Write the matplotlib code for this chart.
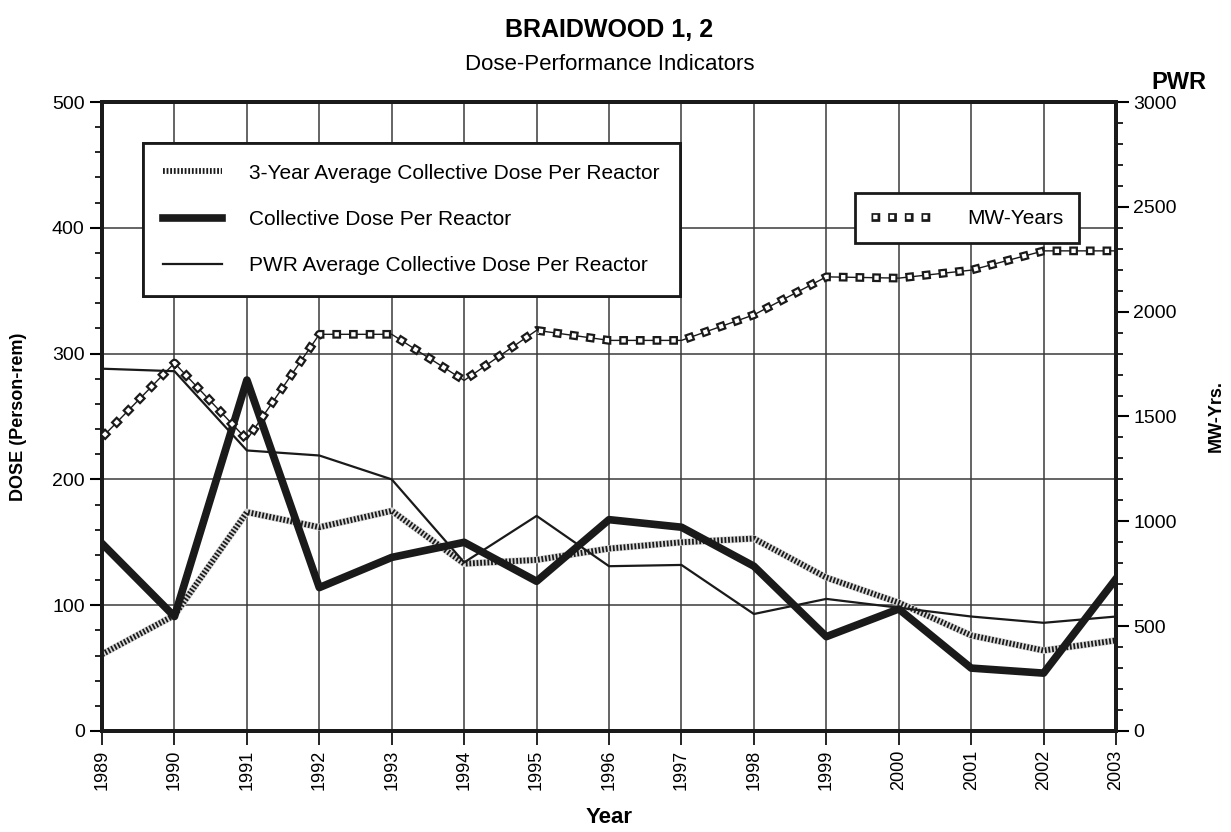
import numpy as np
import matplotlib.pyplot as plt
from matplotlib.ticker import MultipleLocator

plt.rcParams['font.family'] = ['Liberation Sans', 'DejaVu Sans']
plt.rcParams['lines.scale_dashes'] = False

years = list(range(1989, 2004))
avg3 = [61, 92, 174, 162, 175, 133, 136, 145, 150, 153, 122, 102, 76, 64, 72]
coll = [149, 91, 279, 114, 138, 150, 119, 168, 162, 131, 75, 97, 50, 46, 121]
pwr = [288, 286, 223, 219, 200, 134, 171, 131, 132, 93, 105, 98, 91, 86, 91]
mwyrs = [1400, 1755, 1390, 1892, 1892, 1672, 1911, 1863, 1863, 1985, 2166, 2160, 2198, 2290, 2290]

fig = plt.figure(figsize=(12.31, 8.32), dpi=100)
ax = fig.add_axes([0.0829, 0.1214, 0.8237, 0.756])
ax2 = ax.twinx()

ax.grid(True, which='major', color='#3a3a3a', linewidth=1.1)
ax.set_axisbelow(True)

# 3-year average: checkered band
ax.plot(years, avg3, color='#d8d8d8', linewidth=5, zorder=3)
l1, = ax.plot(years, avg3, color='#1a1a1a', linewidth=4.2, linestyle=(0, (1.3, 1.3)),
              label='3-Year Average Collective Dose Per Reactor', zorder=3)
l2, = ax.plot(years, coll, color='#1a1a1a', linewidth=5.5,
              label='Collective Dose Per Reactor', zorder=4)
l3, = ax.plot(years, pwr, color='#1a1a1a', linewidth=1.6,
              label='PWR Average Collective Dose Per Reactor', zorder=3)

# MW-Years: row of hollow squares along the line
ax2.plot(years, mwyrs, color='#1a1a1a', linewidth=1.0, zorder=2)
m_out, = ax2.plot(years, mwyrs, color='#1a1a1a', linewidth=6.3,
                  linestyle=(0, (6.3, 5.7)), dash_capstyle='butt', zorder=3)
m_in, = ax2.plot(years, mwyrs, color='white', linewidth=3.1,
                 linestyle=(10.4, (3.1, 8.9)), dash_capstyle='butt', zorder=4)

ax.set_xlim(1989, 2003)
ax.set_ylim(0, 500)
ax2.set_ylim(0, 3000)

ax.set_xticks(years)
ax.set_xticklabels([str(y) for y in years], rotation=90, fontsize=13)
ax.yaxis.set_major_locator(MultipleLocator(100))
ax.yaxis.set_minor_locator(MultipleLocator(20))
ax2.yaxis.set_major_locator(MultipleLocator(500))
ax2.yaxis.set_minor_locator(MultipleLocator(100))
ax.tick_params(axis='y', which='major', length=9, width=1.5, labelsize=14, direction='out')
ax.tick_params(axis='y', which='minor', length=5, width=1.2, direction='out')
ax.tick_params(axis='x', length=10, width=1.2, direction='out', labelsize=13)
ax2.tick_params(axis='y', which='major', length=9, width=1.5, labelsize=14, direction='out')
ax2.tick_params(axis='y', which='minor', length=5, width=1.2, direction='out')

for a in (ax, ax2):
    for s in a.spines.values():
        s.set_linewidth(2.8)
        s.set_color('#1a1a1a')

ax.set_xlabel('Year', fontsize=16, fontweight='bold', labelpad=12)
ax.set_ylabel('DOSE (Person-rem)', fontsize=13, fontweight='bold', labelpad=18)
ax2.set_ylabel('MW-Yrs.', fontsize=13, fontweight='bold', labelpad=22)

fig.text(0.495, 0.964, 'BRAIDWOOD 1, 2', ha='center', va='center', fontsize=18, fontweight='bold')
fig.text(0.495, 0.923, 'Dose-Performance Indicators', ha='center', va='center', fontsize=16)
fig.text(0.958, 0.901, 'PWR', ha='center', va='center', fontsize=17, fontweight='bold')

leg1 = ax.legend(handles=[l1, l2, l3], loc='upper left', bbox_to_anchor=(0.04, 0.935),
                 fontsize=15, frameon=True, fancybox=False, edgecolor='#1a1a1a',
                 handlelength=2.8, handletextpad=1.3, labelspacing=1.3,
                 borderpad=1.0, borderaxespad=0)
leg1.get_frame().set_linewidth(2)
leg1.get_frame().set_facecolor('white')
leg1.get_frame().set_alpha(1)
ax.add_artist(leg1)

leg2 = ax2.legend(handles=[(m_out, m_in)], labels=['MW-Years'], loc='upper left',
                  bbox_to_anchor=(0.743, 0.855),
                  fontsize=15, frameon=True, fancybox=False, edgecolor='#1a1a1a',
                  handlelength=3.0, handletextpad=1.6, borderpad=0.75, borderaxespad=0)
leg2.get_frame().set_linewidth(2)
leg2.get_frame().set_facecolor('white')
leg2.get_frame().set_alpha(1)

fig.savefig('out.png', dpi=100)
